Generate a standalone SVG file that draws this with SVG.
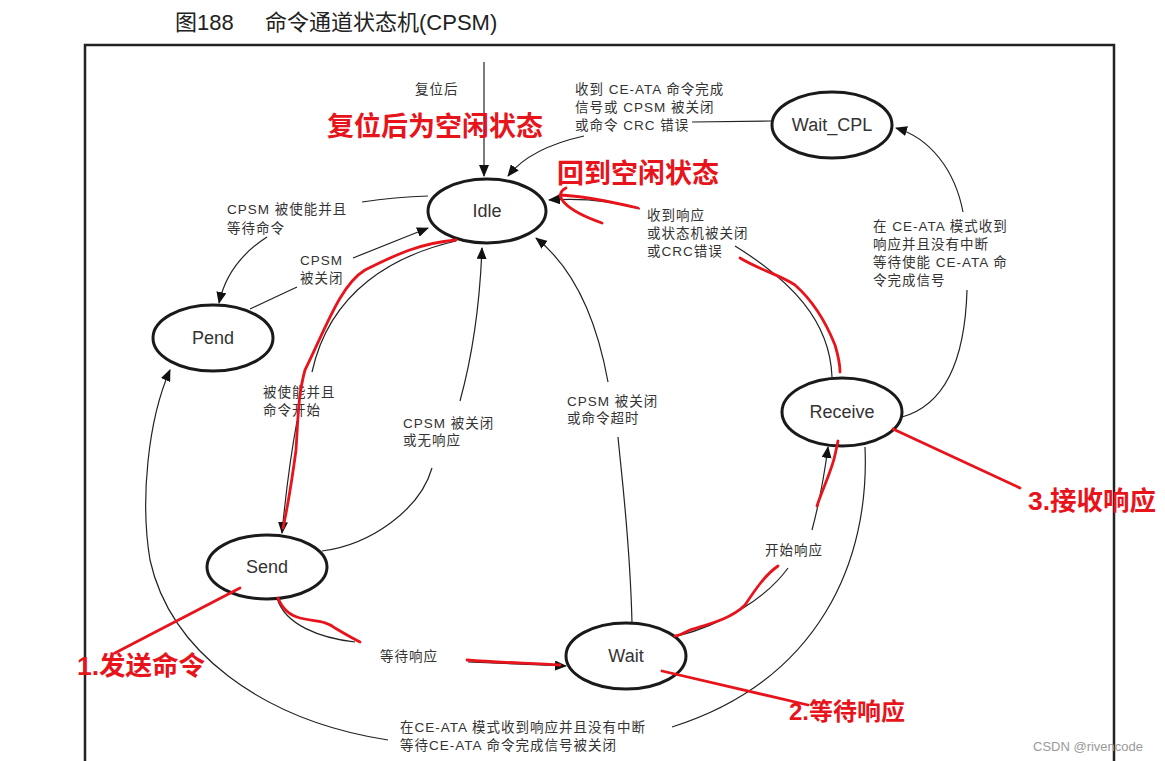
<svg xmlns="http://www.w3.org/2000/svg" width="1165" height="761" viewBox="0 0 1165 761">
<style>
.title{font-family:"Liberation Sans","Noto Sans CJK SC",sans-serif;font-size:22px;fill:#222}
.node ellipse{fill:#fff;stroke:#1a1a1a;stroke-width:3}
.node text{font-family:"Liberation Sans","Noto Sans CJK SC",sans-serif;font-size:18px;fill:#333;text-anchor:middle}
.lbl{font-family:"Liberation Sans","Noto Sans CJK SC",sans-serif;font-size:13.5px;fill:#333;letter-spacing:1px}
.c{fill:none;stroke:#222;stroke-width:1.2}
.ca{fill:none;stroke:#222;stroke-width:1.2;marker-end:url(#arr)}
.red{fill:none;stroke:#e8141c;stroke-width:2.8;stroke-linecap:round;stroke-linejoin:round}
.rt{font-family:"Liberation Sans","Noto Sans CJK SC",sans-serif;font-weight:bold;fill:#e8141c}
</style>
<defs>
<marker id="arr" markerUnits="userSpaceOnUse" markerWidth="12" markerHeight="10" refX="11" refY="5" orient="auto">
<path d="M0,0 L12,5 L0,10 Z" fill="#111"/>
</marker>
</defs>
<rect width="1165" height="761" fill="#fff"/>
<text class="title" x="175" y="30">图188</text>
<text class="title" x="265" y="30">命令通道状态机(CPSM)</text>
<path d="M85,770 L85,45 L1114,45 L1114,770" fill="none" stroke="#222" stroke-width="2.5"/>

<g id="connectors">
<path class="ca" d="M484,62 L484,176"/>
<path class="c" d="M772,121 L692,122"/>
<path class="ca" d="M584,136 Q530,148 508,176"/>
<path class="c" d="M428,196 Q395,197 362,202"/>
<path class="ca" d="M267,237 Q228,262 219,303"/>
<path class="c" d="M250,309 L297,287"/>
<path class="ca" d="M353,258 L428,228"/>
<path class="c" d="M456,241 C395,255 330,290 312,372"/>
<path class="ca" d="M297,421 Q288,470 282,533"/>
<path class="c" d="M322,551 C370,545 420,510 432,468"/>
<path class="ca" d="M460,401 C474,350 480,300 482,248"/>
<path class="c" d="M632,623 C630,540 622,480 618,437"/>
<path class="ca" d="M608,382 C595,310 570,265 536,238"/>
<path class="c" d="M832,377 C830,320 790,280 735,246"/>
<path class="ca" d="M640,209 C610,200 580,198 549,200"/>
<path class="c" d="M902,417 C945,405 965,360 967,290"/>
<path class="ca" d="M963,212 C955,170 930,138 896,128"/>
<path class="c" d="M277,598 C285,625 320,638 355,642"/>
<path class="ca" d="M468,662 L566,666"/>
<path class="c" d="M678,636 C720,625 765,600 788,568"/>
<path class="ca" d="M812,530 C820,500 825,470 828,447"/>
<path class="c" d="M865,447 C870,560 820,680 672,727"/>
<path class="ca" d="M388,740 C260,720 170,650 150,560 C140,500 148,420 170,370"/>
</g>

<g id="labels">
<text class="lbl" x="415" y="94">复位后</text>
<text class="lbl" x="575" y="94">收到 CE-ATA 命令完成</text>
<text class="lbl" x="575" y="112">信号或 CPSM 被关闭</text>
<text class="lbl" x="575" y="130">或命令 CRC 错误</text>
<text class="lbl" x="227" y="214">CPSM 被使能并且</text>
<text class="lbl" x="227" y="233">等待命令</text>
<text class="lbl" x="300" y="265">CPSM</text>
<text class="lbl" x="300" y="283">被关闭</text>
<text class="lbl" x="263" y="397">被使能并且</text>
<text class="lbl" x="263" y="415">命令开始</text>
<text class="lbl" x="403" y="428">CPSM 被关闭</text>
<text class="lbl" x="403" y="445">或无响应</text>
<text class="lbl" x="567" y="406">CPSM 被关闭</text>
<text class="lbl" x="567" y="423">或命令超时</text>
<text class="lbl" x="647" y="220">收到响应</text>
<text class="lbl" x="647" y="238">或状态机被关闭</text>
<text class="lbl" x="647" y="256">或CRC错误</text>
<text class="lbl" x="873" y="231">在 CE-ATA 模式收到</text>
<text class="lbl" x="873" y="249">响应并且没有中断</text>
<text class="lbl" x="873" y="267">等待使能 CE-ATA 命</text>
<text class="lbl" x="873" y="285">令完成信号</text>
<text class="lbl" x="765" y="555">开始响应</text>
<text class="lbl" x="380" y="661">等待响应</text>
<text class="lbl" x="400" y="732">在CE-ATA 模式收到响应并且没有中断</text>
<text class="lbl" x="400" y="750">等待CE-ATA 命令完成信号被关闭</text>
</g>

<g id="idle" class="node"><ellipse cx="487" cy="211" rx="59" ry="32"/><text x="487" y="217">Idle</text></g>
<g id="wait_cpl" class="node"><ellipse cx="832" cy="125" rx="60" ry="33"/><text x="832" y="131">Wait_CPL</text></g>
<g id="pend" class="node"><ellipse cx="213" cy="338" rx="60" ry="33"/><text x="213" y="344">Pend</text></g>
<g id="send" class="node"><ellipse cx="267" cy="567" rx="60" ry="32"/><text x="267" y="573">Send</text></g>
<g id="wait" class="node"><ellipse cx="626" cy="656" rx="60" ry="33"/><text x="626" y="662">Wait</text></g>
<g id="receive" class="node"><ellipse cx="842" cy="412" rx="60" ry="34"/><text x="842" y="418">Receive</text></g>

<g id="annotations">
<path class="red" d="M456,240 C420,243 395,255 365,270 C340,285 325,330 305,370 C298,395 298,420 296,450 C292,480 288,505 283,528"/>
<path class="red" d="M638,208 C612,202 585,196 560,195"/>
<path class="red" d="M566,188 C552,195 565,210 602,223"/>
<path class="red" d="M740,258 C760,270 780,275 795,285 C812,300 825,320 835,345 C838,355 840,365 840,372"/>
<path class="red" d="M817,506 C822,490 832,470 835,455 L838,441"/>
<path class="red" d="M778,566 C765,575 755,590 745,605 C730,620 705,625 690,630 C682,634 678,636 675,636"/>
<path class="red" d="M278,598 C282,608 288,615 300,618 C315,622 325,620 335,628 C345,634 352,638 360,642"/>
<path class="red" d="M467,660 C500,663 535,663 560,665"/>
<path class="red" d="M240,588 L115,653"/>
<path class="red" d="M662,671 L808,705"/>
<path class="red" d="M893,429 L1020,488"/>
<text class="rt" x="327" y="136" font-size="27">复位后为空闲状态</text>
<text class="rt" x="557" y="183" font-size="27">回到空闲状态</text>
<text class="rt" x="1028" y="510" font-size="26.5">3.接收响应</text>
<text class="rt" x="77" y="675" font-size="26.5">1.发送命令</text>
<text class="rt" x="789" y="720" font-size="24">2.等待响应</text>
</g>
<text x="1033" y="751" font-family="Liberation Sans, sans-serif" font-size="13" fill="#9a9a9a">CSDN @rivencode</text>
</svg>
